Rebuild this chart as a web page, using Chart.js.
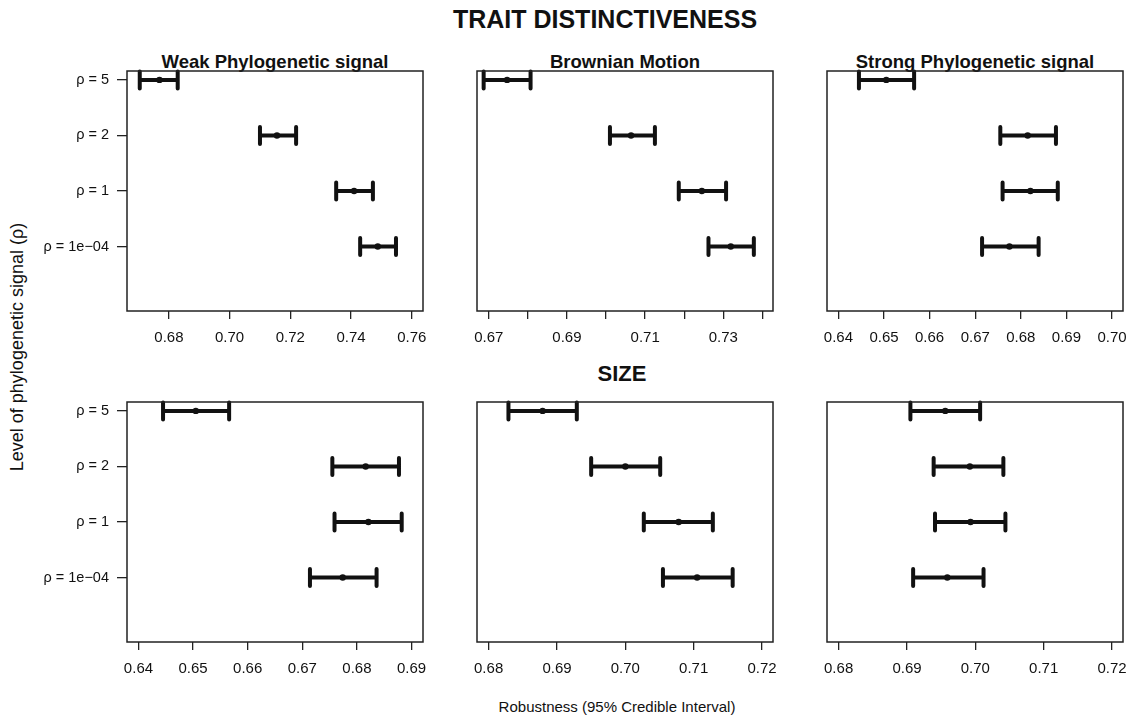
<!DOCTYPE html>
<html>
<head>
<meta charset="utf-8">
<script src="https://cdn.jsdelivr.net/npm/chart.js@4.4.0/dist/chart.umd.min.js"></script>
<style>
  body { margin: 0; background: #fff; font-family: 'Liberation Sans', Arial, sans-serif; color: #111; }
  #page { position: relative; width: 1130px; height: 716px; overflow: hidden; }
  canvas { position: absolute; }
  .txt { position: absolute; white-space: nowrap; line-height: 1; transform: translateX(-50%); }
  .bold { font-weight: bold; }
</style>
</head>
<body>
<div id="page">
  <div class="txt bold" style="left:605px; top:7px; font-size:25px;">TRAIT DISTINCTIVENESS</div>
  <div class="txt bold" style="left:275px; top:53px; font-size:18.5px;">Weak Phylogenetic signal</div>
  <div class="txt bold" style="left:625px; top:53px; font-size:18.5px;">Brownian Motion</div>
  <div class="txt bold" style="left:975px; top:53px; font-size:18.5px;">Strong Phylogenetic signal</div>
  <div class="txt bold" style="left:622px; top:363px; font-size:22px;">SIZE</div>
  <div class="txt" style="left:617px; top:699px; font-size:15px;">Robustness (95% Credible Interval)</div>
  <div class="txt" style="left:17px; top:347px; font-size:18px; transform: translate(-50%,-50%) rotate(-90deg);">Level of phylogenetic signal (ρ)</div>
</div>
<script>
// categories top to bottom
const categories = ['ρ = 5', 'ρ = 2', 'ρ = 1', 'ρ = 1e−04'];

// trait distinctiveness
const traitWeakLow   = [0.6704, 0.7100, 0.7351, 0.7430];
const traitWeakMean  = [0.6769, 0.7156, 0.7410, 0.7488];
const traitWeakHigh  = [0.6829, 0.7219, 0.7472, 0.7548];
const traitBrownLow  = [0.6687, 0.7010, 0.7186, 0.7262];
const traitBrownMean = [0.6747, 0.7064, 0.7245, 0.7319];
const traitBrownHigh = [0.6807, 0.7125, 0.7307, 0.7378];
const traitStrongLow  = [0.6445, 0.6755, 0.6760, 0.6715];
const traitStrongMean = [0.6505, 0.6815, 0.6821, 0.6775];
const traitStrongHigh = [0.6566, 0.6877, 0.6881, 0.6839];

// size
const sizeWeakLow   = [0.6445, 0.6755, 0.6759, 0.6714];
const sizeWeakMean  = [0.6505, 0.6816, 0.6821, 0.6774];
const sizeWeakHigh  = [0.6566, 0.6877, 0.6882, 0.6836];
const sizeBrownLow  = [0.6829, 0.6950, 0.7027, 0.7055];
const sizeBrownMean = [0.6879, 0.7000, 0.7078, 0.7105];
const sizeBrownHigh = [0.6929, 0.7051, 0.7128, 0.7157];
const sizeStrongLow  = [0.6905, 0.6939, 0.6941, 0.6909];
const sizeStrongMean = [0.6956, 0.6992, 0.6993, 0.6959];
const sizeStrongHigh = [0.7007, 0.7041, 0.7044, 0.7012];

// x tick values and labels
const ticksTraitWeak = [0.68, 0.70, 0.72, 0.74, 0.76];
const labelsTraitWeak = ['0.68', '0.70', '0.72', '0.74', '0.76'];
const ticksTraitBrown = [0.67, 0.68, 0.69, 0.70, 0.71, 0.72, 0.73, 0.74];
const labelsTraitBrown = ['0.67', '', '0.69', '', '0.71', '', '0.73', ''];
const ticksTraitStrong = [0.64, 0.65, 0.66, 0.67, 0.68, 0.69, 0.70];
const labelsTraitStrong = ['0.64', '0.65', '0.66', '0.67', '0.68', '0.69', '0.70'];
const ticksSizeWeak = [0.64, 0.65, 0.66, 0.67, 0.68, 0.69];
const labelsSizeWeak = ['0.64', '0.65', '0.66', '0.67', '0.68', '0.69'];
const ticksSizeOther = [0.68, 0.69, 0.70, 0.71, 0.72];
const labelsSizeOther = ['0.68', '0.69', '0.70', '0.71', '0.72'];

// axis limits
const xlimTraitWeak = [0.6662, 0.7637];
const xlimTraitBrown = [0.6670, 0.7427];
const xlimTraitStrong = [0.6375, 0.7024];
const xlimSizeWeak = [0.6379, 0.6921];
const xlimSizeOther = [0.6783, 0.7216];

const L = 100, R = 20, T = 20, B = 45;
const boxW = 296, boxH = 240;
const ink = '#111';

const errorBars = {
  id: 'errorBars',
  beforeDatasetsDraw(chart, args, opts) {
    const ctx = chart.ctx, xs = chart.scales.x, ys = chart.scales.y;
    ctx.save();
    ctx.strokeStyle = ink;
    ctx.lineWidth = 4;
    ctx.lineCap = 'round';
    opts.low.forEach((lo, i) => {
      const x1 = xs.getPixelForValue(lo), x2 = xs.getPixelForValue(opts.high[i]);
      const y = ys.getPixelForValue(i);
      ctx.beginPath();
      ctx.moveTo(x1, y); ctx.lineTo(x2, y);
      ctx.moveTo(x1, y - 8.5); ctx.lineTo(x1, y + 8.5);
      ctx.moveTo(x2, y - 8.5); ctx.lineTo(x2, y + 8.5);
      ctx.stroke();
    });
    ctx.restore();
  }
};

const frame = {
  id: 'frame',
  afterDraw(chart) {
    const a = chart.chartArea, ctx = chart.ctx;
    ctx.save();
    ctx.strokeStyle = '#222';
    ctx.lineWidth = 1.5;
    ctx.strokeRect(a.left, a.top, a.right - a.left, a.bottom - a.top);
    ctx.restore();
  }
};

function makePanel(boxLeft, boxTop, low, mean, high, xlim, ticks, labels, showY) {
  const canvas = document.createElement('canvas');
  canvas.width = boxW + L + R;
  canvas.height = boxH + T + B;
  canvas.style.left = (boxLeft - L) + 'px';
  canvas.style.top = (boxTop - T) + 'px';
  document.getElementById('page').appendChild(canvas);

  new Chart(canvas, {
    type: 'scatter',
    data: {
      datasets: [{
        data: mean.map((m, i) => ({ x: m, y: i })),
        pointRadius: 3.2,
        pointBackgroundColor: ink,
        pointBorderColor: ink,
        pointBorderWidth: 0
      }]
    },
    plugins: [errorBars, frame],
    options: {
      responsive: false,
      animation: false,
      layout: { padding: { left: 0, top: T, right: R, bottom: 0 } },
      plugins: {
        legend: { display: false },
        tooltip: { enabled: false },
        errorBars: { low: low, high: high }
      },
      scales: {
        x: {
          type: 'linear',
          min: xlim[0],
          max: xlim[1],
          afterBuildTicks: s => { s.ticks = ticks.map(v => ({ value: v })); },
          afterFit: s => { s.height = B; s.paddingLeft = 0; s.paddingRight = 0; },
          border: { display: false },
          grid: { drawOnChartArea: false, drawTicks: true, tickLength: 8, color: '#222', lineWidth: 1.3 },
          ticks: {
            autoSkip: false, maxRotation: 0, padding: 10,
            color: ink, font: { family: "'Liberation Sans', Arial, sans-serif", size: 15 },
            callback: (v, i) => labels[i]
          }
        },
        y: {
          type: 'linear',
          reverse: true,
          min: -0.16,
          max: 3 + 1.16,
          afterBuildTicks: s => { s.ticks = categories.map((c, i) => ({ value: i })); },
          afterFit: s => { s.width = L; s.paddingTop = 0; s.paddingBottom = 0; },
          border: { display: false },
          grid: { display: showY, drawOnChartArea: false, drawTicks: true, tickLength: 10, color: '#222', lineWidth: 1.3 },
          ticks: {
            display: showY, autoSkip: false, padding: 8,
            color: ink, font: { family: "'Liberation Sans', Arial, sans-serif", size: 14.5 },
            callback: (v, i) => categories[i]
          }
        }
      }
    }
  });
}

makePanel(127, 71, traitWeakLow, traitWeakMean, traitWeakHigh, xlimTraitWeak, ticksTraitWeak, labelsTraitWeak, true);
makePanel(477, 71, traitBrownLow, traitBrownMean, traitBrownHigh, xlimTraitBrown, ticksTraitBrown, labelsTraitBrown, false);
makePanel(827, 71, traitStrongLow, traitStrongMean, traitStrongHigh, xlimTraitStrong, ticksTraitStrong, labelsTraitStrong, false);
makePanel(127, 402, sizeWeakLow, sizeWeakMean, sizeWeakHigh, xlimSizeWeak, ticksSizeWeak, labelsSizeWeak, true);
makePanel(477, 402, sizeBrownLow, sizeBrownMean, sizeBrownHigh, xlimSizeOther, ticksSizeOther, labelsSizeOther, false);
makePanel(827, 402, sizeStrongLow, sizeStrongMean, sizeStrongHigh, xlimSizeOther, ticksSizeOther, labelsSizeOther, false);
</script>
</body>
</html>
